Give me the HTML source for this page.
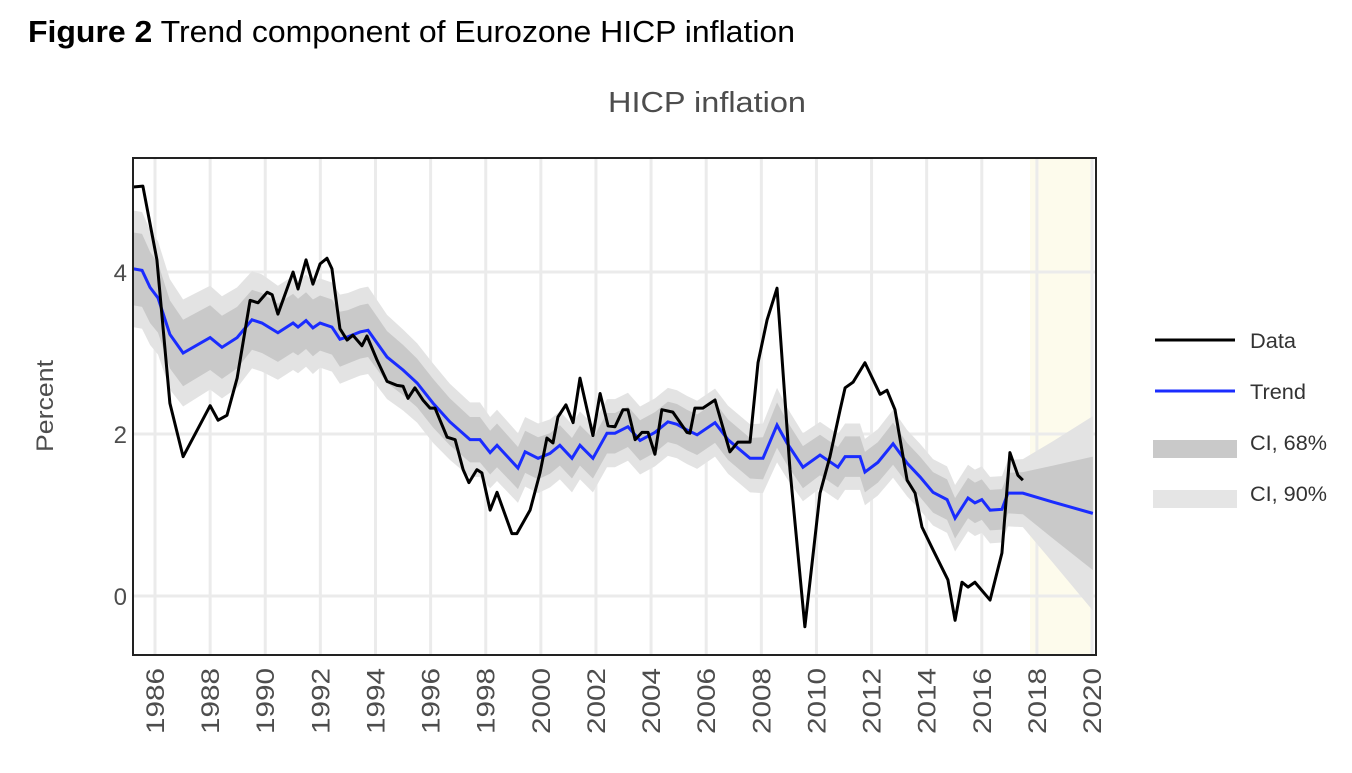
<!DOCTYPE html>
<html><head><meta charset="utf-8">
<style>
html,body{margin:0;padding:0;background:#fff;}
body{width:1352px;height:768px;overflow:hidden;font-family:"Liberation Sans",Arial,sans-serif;}
</style></head>
<body>
<svg id="chart" width="1352" height="768" xmlns="http://www.w3.org/2000/svg" font-family="Liberation Sans, Arial, sans-serif">
  <text x="28" y="42" font-size="31" fill="#000" textLength="767" lengthAdjust="spacingAndGlyphs"><tspan font-weight="bold">Figure 2</tspan> Trend component of Eurozone HICP inflation</text>
  <text x="707" y="112" font-size="29" fill="#4d4d4d" text-anchor="middle" textLength="198" lengthAdjust="spacingAndGlyphs">HICP inflation</text>
  <text transform="translate(53,406) rotate(-90)" font-size="24" fill="#4d4d4d" text-anchor="middle" textLength="92" lengthAdjust="spacingAndGlyphs">Percent</text>
  <g id="plot"></g>
  <g id="legend">
    <g>
      <line x1="1155" y1="340" x2="1235" y2="340" stroke="#000" stroke-width="3"/>
      <text x="1250" y="348" font-size="21" fill="#333" textLength="46" lengthAdjust="spacingAndGlyphs">Data</text>
    </g>
    <g>
      <line x1="1155" y1="391" x2="1235" y2="391" stroke="#1a2cff" stroke-width="3"/>
      <text x="1250" y="399" font-size="21" fill="#333" textLength="56" lengthAdjust="spacingAndGlyphs">Trend</text>
    </g>
    <g>
      <rect x="1153" y="440" width="84" height="18" fill="#c9c9c9"/>
      <text x="1250" y="450" font-size="21" fill="#333" textLength="77" lengthAdjust="spacingAndGlyphs">CI, 68%</text>
    </g>
    <g>
      <rect x="1153" y="490" width="84" height="18" fill="#e5e5e5"/>
      <text x="1250" y="501" font-size="21" fill="#333" textLength="77" lengthAdjust="spacingAndGlyphs">CI, 90%</text>
    </g>
  </g>
</svg>
<script>
const dataYears=[1985.2,1985.56,1986.07,1986.54,1987.02,1988.0,1988.29,1988.61,1988.98,1989.45,1989.74,1990.07,1990.25,1990.46,1991.01,1991.19,1991.48,1991.73,1991.99,1992.24,1992.42,1992.71,1992.97,1993.18,1993.51,1993.69,1994.06,1994.42,1994.78,1995.0,1995.18,1995.43,1995.72,1995.98,1996.16,1996.6,1996.89,1997.18,1997.39,1997.68,1997.86,1998.16,1998.41,1998.95,1999.13,1999.61,1999.97,2000.22,2000.44,2000.62,2000.91,2001.17,2001.42,2001.89,2002.15,2002.44,2002.69,2002.98,2003.16,2003.42,2003.67,2003.89,2004.14,2004.39,2004.79,2005.3,2005.41,2005.59,2005.88,2006.32,2006.86,2007.15,2007.59,2007.88,2008.21,2008.57,2009.04,2009.58,2010.13,2010.49,2010.86,2011.04,2011.33,2011.76,2012.31,2012.56,2012.85,2013.29,2013.58,2013.83,2014.23,2014.77,2015.03,2015.28,2015.5,2015.75,2016.3,2016.73,2017.02,2017.31,2017.49];
const dataValues=[5.05,5.06,4.15,2.38,1.72,2.35,2.17,2.23,2.69,3.65,3.62,3.75,3.72,3.48,4.0,3.79,4.15,3.85,4.1,4.17,4.04,3.3,3.16,3.22,3.09,3.21,2.91,2.65,2.6,2.59,2.44,2.57,2.42,2.32,2.32,1.96,1.93,1.56,1.4,1.56,1.52,1.06,1.28,0.77,0.77,1.06,1.52,1.95,1.89,2.21,2.36,2.14,2.69,1.98,2.5,2.1,2.09,2.3,2.3,1.93,2.02,2.02,1.75,2.3,2.27,2.02,2.01,2.32,2.32,2.42,1.78,1.9,1.9,2.88,3.41,3.8,1.56,-0.38,1.27,1.72,2.3,2.57,2.64,2.88,2.49,2.54,2.3,1.43,1.27,0.85,0.57,0.2,-0.3,0.17,0.11,0.17,-0.05,0.53,1.77,1.49,1.43];
const trendYears=[1985.2,1985.53,1985.82,1986.11,1986.54,1987.02,1988.0,1988.43,1988.98,1989.52,1989.88,1990.46,1991.01,1991.19,1991.48,1991.73,1991.99,1992.42,1992.71,1993.0,1993.44,1993.73,1994.42,1995.0,1995.51,1996.09,1996.7,1997.43,1997.79,1998.16,1998.41,1999.17,1999.43,1999.9,2000.33,2000.69,2001.13,2001.42,2001.89,2002.4,2002.69,2003.16,2003.6,2004.14,2004.61,2004.94,2005.3,2005.67,2006.32,2006.79,2007.59,2008.06,2008.57,2008.93,2009.51,2010.13,2010.78,2011.04,2011.58,2011.76,2012.23,2012.78,2013.29,2013.76,2014.23,2014.74,2015.03,2015.5,2015.75,2016.0,2016.3,2016.73,2016.95,2017.49,2018.58,2020.03];
const trendValues=[4.04,4.02,3.81,3.68,3.23,3.0,3.19,3.07,3.19,3.41,3.37,3.25,3.37,3.32,3.4,3.31,3.37,3.32,3.17,3.2,3.26,3.28,2.95,2.79,2.63,2.38,2.15,1.93,1.93,1.77,1.86,1.58,1.78,1.7,1.76,1.86,1.7,1.86,1.7,2.01,2.01,2.09,1.92,2.02,2.15,2.12,2.05,1.99,2.14,1.93,1.7,1.7,2.11,1.89,1.59,1.74,1.59,1.72,1.72,1.53,1.65,1.88,1.64,1.47,1.28,1.19,0.96,1.21,1.15,1.19,1.06,1.07,1.27,1.27,1.16,1.02];
const ci68Half=[0.45,0.45,0.44,0.43,0.42,0.41,0.40,0.39,0.38,0.37,0.37,0.36,0.36,0.35,0.35,0.35,0.34,0.34,0.34,0.33,0.33,0.33,0.32,0.31,0.30,0.30,0.29,0.28,0.28,0.27,0.27,0.26,0.26,0.26,0.25,0.25,0.25,0.25,0.25,0.25,0.25,0.25,0.25,0.25,0.25,0.25,0.25,0.25,0.25,0.25,0.25,0.26,0.28,0.27,0.26,0.25,0.25,0.25,0.25,0.25,0.25,0.26,0.25,0.25,0.25,0.25,0.25,0.25,0.25,0.25,0.25,0.25,0.25,0.26,0.45,0.70];
const ci90Half=[0.72,0.72,0.71,0.70,0.68,0.66,0.64,0.63,0.62,0.60,0.60,0.58,0.58,0.57,0.57,0.57,0.55,0.55,0.55,0.54,0.54,0.54,0.52,0.50,0.49,0.49,0.47,0.46,0.46,0.44,0.44,0.43,0.43,0.43,0.42,0.42,0.42,0.42,0.42,0.42,0.42,0.42,0.42,0.42,0.42,0.42,0.42,0.42,0.42,0.42,0.42,0.43,0.46,0.44,0.42,0.41,0.41,0.41,0.41,0.41,0.41,0.42,0.41,0.41,0.41,0.41,0.41,0.41,0.41,0.41,0.41,0.41,0.41,0.42,0.75,1.20];
const xTickYears=[1986,1988,1990,1992,1994,1996,1998,2000,2002,2004,2006,2008,2010,2012,2014,2016,2018,2020];
const yTickValues=[0,2,4];
const forecastStart=2017.75, forecastEnd=2020;

const NS='http://www.w3.org/2000/svg';
const L=133,R=1096,T=158,B=655;
const X=y=>155+(y-1986)*27.56;
const Y=v=>596-v*81;
const plot=document.getElementById('plot');
function mk(tag,attrs,parent){const e=document.createElementNS(NS,tag);for(const k in attrs)e.setAttribute(k,attrs[k]);(parent||plot).appendChild(e);return e;}

const bg=mk('rect',{x:L,y:T,width:R-L,height:B-T,fill:'#fff'});


const fc=mk('rect',{x:X(forecastStart),y:T,width:X(forecastEnd)-X(forecastStart),height:B-T,fill:'#fdfbec'});


xTickYears.forEach(yr=>{
  const g=mk('line',{x1:X(yr),x2:X(yr),y1:T,y2:B,stroke:'#ebebeb','stroke-width':3});
  
  
  const t=mk('text',{transform:`translate(${X(yr)+9},${B+13}) rotate(-90)`,'font-size':25,fill:'#4d4d4d','text-anchor':'end',textLength:66,lengthAdjust:'spacingAndGlyphs'});
  t.textContent=yr;
  
  
});
yTickValues.forEach(v=>{
  const g=mk('line',{x1:L,x2:R,y1:Y(v),y2:Y(v),stroke:'#ebebeb','stroke-width':3});
  
  
  const t=mk('text',{x:L-6,y:Y(v)+9,'font-size':24,fill:'#4d4d4d','text-anchor':'end'});
  t.textContent=v;
  
  
});
function band(half){
  let up=trendYears.map((yr,i)=>X(yr)+','+Y(trendValues[i]+half[i]));
  let lo=trendYears.map((yr,i)=>X(yr)+','+Y(trendValues[i]-half[i])).reverse();
  return up.concat(lo).join(' ');
}
const clip=mk('clipPath',{id:'clipPlot'});
mk('rect',{x:L,y:T,width:R-L,height:B-T},clip);
const b90=mk('polygon',{points:band(ci90Half),fill:'#e3e3e3','clip-path':'url(#clipPlot)'});


const b68=mk('polygon',{points:band(ci68Half),fill:'#c9c9c9','clip-path':'url(#clipPlot)'});


const tl=mk('polyline',{points:trendYears.map((yr,i)=>X(yr)+','+Y(trendValues[i])).join(' '),fill:'none',stroke:'#1a2cff','stroke-width':3,'clip-path':'url(#clipPlot)'});


const dl=mk('polyline',{points:dataYears.map((yr,i)=>X(yr)+','+Y(dataValues[i])).join(' '),fill:'none',stroke:'#000','stroke-width':3,'stroke-linejoin':'round','clip-path':'url(#clipPlot)'});


const fr=mk('rect',{x:L,y:T,width:R-L,height:B-T,fill:'none',stroke:'#222','stroke-width':2});


</script>
</body></html>
